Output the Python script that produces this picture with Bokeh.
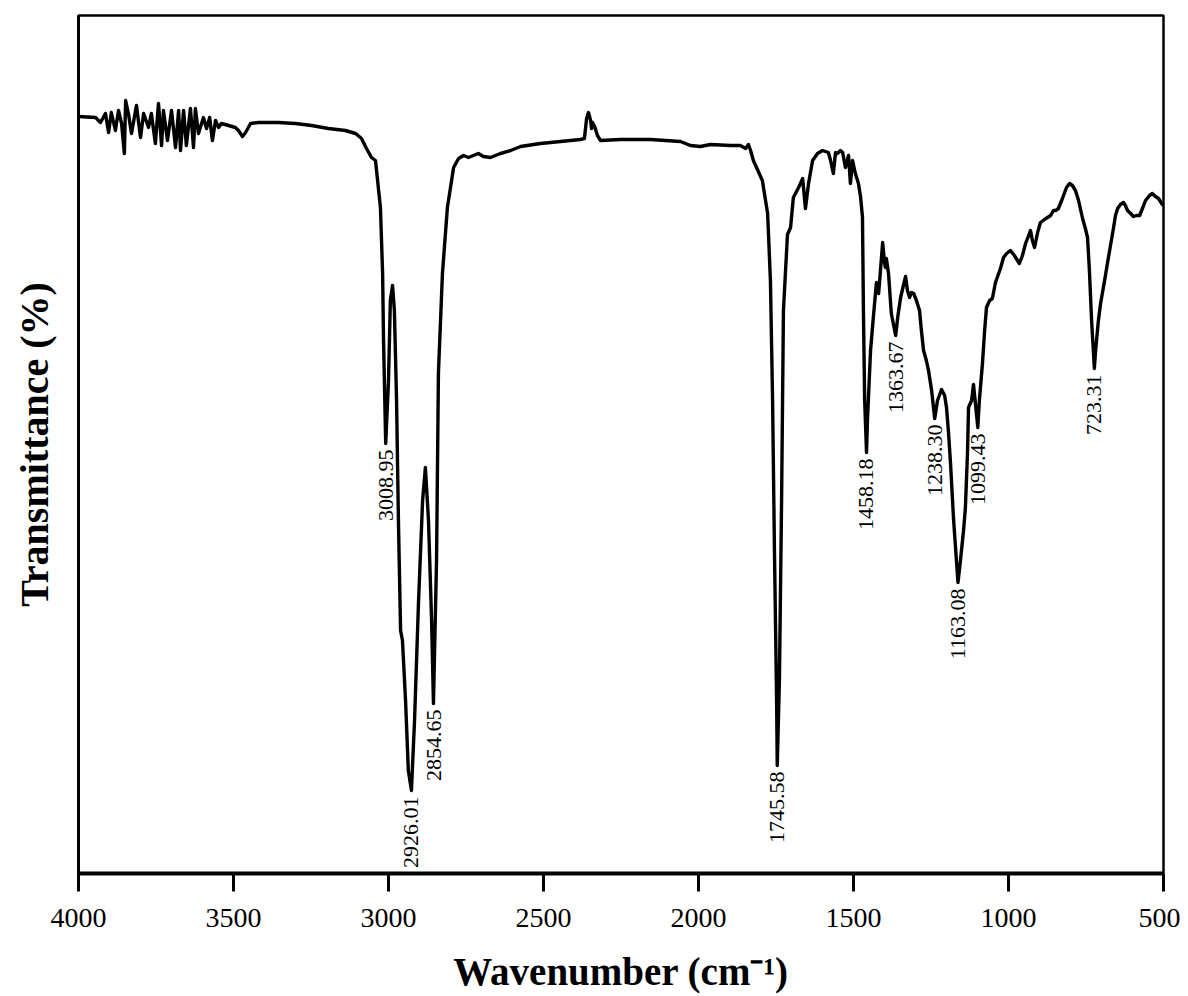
import numpy as np
from bokeh.plotting import figure
from bokeh.models import Range1d, FixedTicker, ColumnDataSource
from bokeh.core.properties import value
from bokeh.embed import file_html
from bokeh.resources import INLINE

# Wavenumber (cm-1), descending
wavenumber = [
    4000, 3945, 3929, 3913, 3903, 3894, 3881, 3871, 3861, 3852, 3848, 3839, 3829, 3813, 3800,
    3790, 3774, 3765, 3752, 3742, 3732, 3726, 3713, 3700, 3687, 3677, 3671, 3661, 3652, 3639,
    3629, 3623, 3613, 3597, 3587, 3577, 3568, 3558, 3548, 3539, 3516, 3494, 3484, 3471, 3461,
    3445, 3419, 3355, 3300, 3248, 3194, 3139, 3106, 3087, 3071, 3055, 3042, 3026, 3019, 3016,
    3009, 3000, 2994, 2987, 2981, 2974, 2968, 2961, 2955, 2945, 2936, 2926, 2916, 2903, 2890,
    2881, 2871, 2861, 2855, 2845, 2839, 2826, 2810, 2790, 2774, 2758, 2742, 2726, 2710, 2694,
    2671, 2655, 2639, 2606, 2574, 2510, 2445, 2381, 2368, 2361, 2355, 2348, 2345, 2342, 2335,
    2326, 2316, 2252, 2155, 2058, 2026, 1994, 1961, 1897, 1865, 1848, 1839, 1832, 1823, 1794,
    1777, 1768, 1761, 1755, 1748, 1746, 1739, 1732, 1726, 1713, 1703, 1694, 1677, 1664, 1655,
    1645, 1632, 1616, 1600, 1581, 1574, 1565, 1558, 1552, 1542, 1535, 1526, 1516, 1510, 1503,
    1494, 1484, 1477, 1471, 1468, 1464, 1458, 1455, 1445, 1436, 1426, 1419, 1413, 1406, 1400,
    1397, 1394, 1387, 1378, 1364, 1357, 1348, 1339, 1332, 1326, 1319, 1313, 1306, 1297, 1287,
    1281, 1274, 1265, 1258, 1248, 1238, 1229, 1216, 1206, 1200, 1194, 1187, 1177, 1163, 1155,
    1145, 1139, 1132, 1129, 1119, 1113, 1106, 1099, 1094, 1084, 1077, 1071, 1061, 1052, 1042,
    1026, 1016, 1006, 994, 981, 965, 955, 945, 935, 929, 923, 916, 906, 897, 884,
    874, 864, 855, 848, 839, 826, 813, 803, 794, 784, 774, 761, 752, 745, 739,
    732, 723, 719, 710, 703, 690, 681, 671, 661, 655, 648, 639, 629, 623, 616,
    606, 597, 587, 577, 568, 558, 545, 536, 526, 516, 506, 500,
]

# Transmittance (arbitrary %, same order)
transmittance = [
    75.7, 75.6, 75.1, 76.0, 74.1, 76.1, 74.3, 76.3, 75.0, 72.0, 77.3, 76.0, 74.0, 76.8, 73.6,
    76.0, 74.6, 76.0, 73.0, 77.0, 72.8, 76.3, 73.3, 76.3, 72.6, 76.3, 72.3, 76.3, 72.8, 76.5,
    72.6, 76.5, 74.0, 75.6, 74.5, 75.6, 73.3, 75.3, 74.6, 75.0, 74.8, 74.6, 74.3, 73.7, 74.1,
    75.0, 75.1, 75.1, 75.0, 74.8, 74.5, 74.3, 74.0, 73.5, 72.5, 71.6, 71.3, 66.6, 60.0, 53.3,
    43.0, 49.3, 57.3, 58.8, 56.3, 47.3, 35.3, 24.3, 23.3, 17.3, 10.3, 8.3, 15.3, 27.3, 37.3,
    40.6, 35.3, 25.3, 17.0, 31.3, 50.0, 60.0, 66.6, 70.6, 71.5, 71.8, 71.6, 71.8, 72.0, 71.7,
    71.6, 71.8, 72.0, 72.3, 72.7, 73.0, 73.2, 73.4, 73.5, 75.5, 76.1, 75.3, 74.5, 75.1, 74.7,
    73.8, 73.3, 73.4, 73.4, 73.2, 72.8, 72.7, 72.9, 72.8, 72.8, 72.5, 72.9, 72.3, 71.3, 69.3,
    66.0, 59.3, 47.3, 32.3, 17.3, 10.8, 19.3, 37.3, 56.3, 63.9, 64.6, 67.6, 68.6, 69.5, 66.5,
    69.0, 71.3, 72.0, 72.3, 72.1, 71.3, 70.0, 72.1, 72.0, 72.3, 72.1, 70.6, 71.8, 69.0, 71.3,
    70.0, 69.0, 67.6, 65.6, 56.3, 47.3, 42.1, 45.3, 52.3, 55.6, 59.1, 58.0, 60.3, 63.1, 61.1,
    60.6, 61.5, 60.0, 56.0, 53.8, 55.7, 57.6, 58.8, 59.7, 58.3, 57.6, 58.1, 58.0, 57.3, 56.3,
    54.3, 52.3, 51.3, 50.3, 48.3, 45.5, 47.3, 48.4, 47.8, 46.6, 44.3, 41.0, 35.3, 29.1, 31.3,
    34.3, 36.6, 42.3, 46.6, 47.3, 48.9, 46.8, 44.6, 47.3, 51.0, 54.3, 56.6, 57.3, 57.5, 59.1,
    60.5, 61.6, 62.0, 62.3, 61.8, 61.0, 61.8, 63.0, 63.8, 64.3, 63.3, 62.6, 64.1, 65.1, 65.4,
    65.6, 65.8, 66.3, 66.3, 66.5, 67.5, 68.6, 69.0, 68.8, 68.3, 67.3, 65.5, 64.5, 63.6, 60.3,
    55.3, 50.5, 52.3, 55.3, 57.0, 59.3, 61.0, 62.8, 64.6, 65.8, 66.5, 66.9, 67.1, 66.8, 66.3,
    66.0, 65.7, 65.8, 65.8, 66.5, 67.3, 67.8, 68.0, 67.7, 67.5, 67.0, 66.8,
]

# Annotated peaks
peak_wn = [3008.95, 2926.01, 2854.65, 1745.58, 1458.18, 1363.67, 1238.30, 1163.08, 1099.43, 723.31]
peak_text = ["3008.95", "2926.01", "2854.65", "1745.58", "1458.18", "1363.67", "1238.30",
             "1163.08", "1099.43", "723.31"]

x_ticks = [4000, 3500, 3000, 2500, 2000, 1500, 1000, 500]

FONT = "Liberation Serif"

p = figure(width=1180, height=996, output_backend="svg", toolbar_location=None,
           x_range=Range1d(4000, 500), y_range=Range1d(0, 85.8),
           min_border_left=78, min_border_right=17, min_border_top=15, min_border_bottom=123)
p.background_fill_color = "white"
p.border_fill_color = "white"
p.xgrid.visible = False
p.ygrid.visible = False
p.outline_line_color = "black"
p.outline_line_width = 2.5

p.line(wavenumber, transmittance, line_color="black", line_width=3.4, line_join="round")

# peak labels placed just below each minimum
wn_arr = np.array(wavenumber[::-1], dtype=float)
t_arr = np.array(transmittance[::-1], dtype=float)
peak_t = []
for w in peak_wn:
    mask = np.abs(wn_arr - w) <= 6
    peak_t.append(float(t_arr[mask].min()) - 0.6)
src = ColumnDataSource(dict(x=peak_wn, y=peak_t, t=peak_text))
p.text(x="x", y="y", text="t", source=src, angle=np.pi / 2, text_align="right",
       text_baseline="middle", text_font=value(FONT), text_font_size="22px",
       text_color="black")

# x axis
p.xaxis.ticker = FixedTicker(ticks=x_ticks)
p.xaxis.minor_tick_line_color = None
p.xaxis.major_tick_in = 0
p.xaxis.major_tick_out = 18
p.xaxis.major_tick_line_width = 3
p.xaxis.major_tick_line_color = "black"
p.xaxis.axis_line_width = 4
p.xaxis.axis_line_color = "black"
p.xaxis.major_label_text_font = FONT
p.xaxis.major_label_text_font_size = "28px"
p.xaxis.major_label_text_color = "black"
p.xaxis.major_label_standoff = 17
p.xaxis.axis_label = "Wavenumber (cm\u207b\u00b9)"
p.xaxis.axis_label_text_font = FONT
p.xaxis.axis_label_text_font_size = "39px"
p.xaxis.axis_label_text_font_style = "bold"
p.xaxis.axis_label_text_color = "black"
p.xaxis.axis_label_standoff = 20

# y axis (no ticks)
p.yaxis.ticker = FixedTicker(ticks=[])
p.yaxis.minor_tick_line_color = None
p.yaxis.major_tick_line_color = None
p.yaxis.axis_line_width = 3
p.yaxis.axis_line_color = "black"
p.yaxis.axis_label = "Transmittance (%)"
p.yaxis.axis_label_text_font = FONT
p.yaxis.axis_label_text_font_size = "40px"
p.yaxis.axis_label_text_font_style = "bold"
p.yaxis.axis_label_text_color = "black"
p.yaxis.axis_label_standoff = 22

open("out.html", "w").write(file_html(p, INLINE))
